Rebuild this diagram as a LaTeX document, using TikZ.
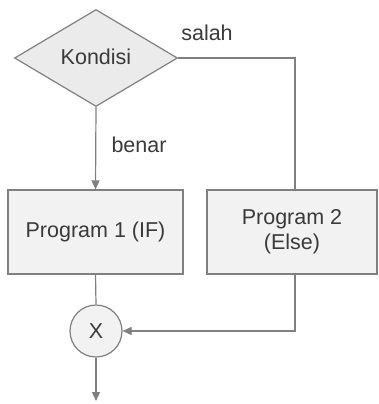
\documentclass[tikz,border=0pt]{standalone}
\usepackage{fontspec}
\setmainfont{Liberation Sans}
\usetikzlibrary{shapes.geometric,arrows.meta}
\definecolor{lc}{HTML}{808080}
\definecolor{fillA}{HTML}{EBEBEB}
\definecolor{fillB}{HTML}{F2F2F2}
\definecolor{tc}{HTML}{3A3A3A}
\begin{document}
\begin{tikzpicture}[x=1pt,y=-1pt,
  every node/.style={font=\fontsize{21.5}{25}\selectfont, text=tc},
  conn/.style={draw=lc, line width=1.2pt},
  arr/.style={conn, -{Triangle[length=9pt,width=8pt]}},
  box/.style={draw=lc, fill=fillB, line width=1.2pt, rectangle, align=center, inner sep=0pt},
  dec/.style={draw=lc, fill=fillA, line width=1.2pt, diamond, inner sep=0pt, minimum width=163pt, minimum height=97pt},
  junc/.style={draw=lc, fill=fillB, line width=1.2pt, circle, inner sep=0pt, minimum size=52pt},
  lbl/.style={inner sep=0pt}]
\useasboundingbox (0,0) rectangle (378,404);
\node[dec] (k) at (96,58) {};
\node at (96,57) {Kondisi};
\node[box, minimum width=175pt, minimum height=84pt] (p1) at (95.5,232) {Program 1 (IF)};
\node[box, minimum width=170pt, minimum height=84pt] (p2) at (292,232) {Program 2\\(Else)};
\node[junc] (x) at (96,331) {X};
\coordinate (c1) at (295,58);
\coordinate (c2) at (295,331);
\coordinate (e) at (96,401);
\draw[arr] (k.south) -- (p1.north);
\draw[conn] (k.east) -- (c1) -- (p2.north -| c1);
\draw[arr] (p2.south -| c2) -- (c2) -- (x.east);
\draw[conn] (p1.south) -- (x.north);
\draw[arr] (x.south) -- (e);
\node[lbl] (s) at (207,33) {salah};
\node[lbl] (b) at (139,145) {benar};
\end{tikzpicture}
\end{document}
